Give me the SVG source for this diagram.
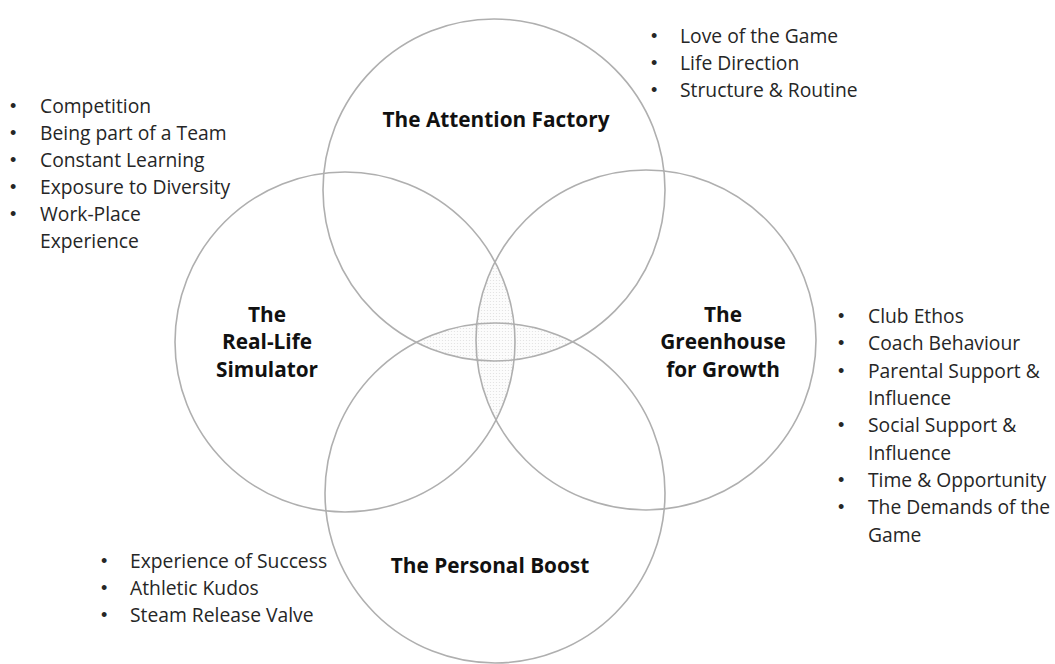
<svg xmlns="http://www.w3.org/2000/svg" width="1055" height="664" viewBox="0 0 1055 664">
<style>
.circ{fill:none;stroke:#afafaf;stroke-width:1.6}
.lbl{font-family:"Open Sans","Noto Sans","Liberation Sans",sans-serif;font-weight:bold;font-size:20.8px;fill:#111;text-anchor:middle}
.item{font-family:"Open Sans","Noto Sans","Liberation Sans",sans-serif;font-size:19.3px;fill:#262626}
.bul{font-family:"Liberation Sans",sans-serif;font-size:18px;fill:#262626}
</style>
<defs>
<pattern id="dots" width="3" height="3" patternUnits="userSpaceOnUse">
<rect width="3" height="3" fill="#fcfcfc"/>
<circle cx="1.5" cy="1.5" r="0.6" fill="#e0e0e0"/>
</pattern>
<clipPath id="clipTop"><circle cx="494" cy="190" r="171"/></clipPath>
<clipPath id="clipLeft"><circle cx="345" cy="342" r="170"/></clipPath>
</defs>
<rect width="1055" height="664" fill="#fff"/>
<g id="lenses">
<circle cx="495" cy="493" r="170" fill="url(#dots)" clip-path="url(#clipTop)"/>
<circle cx="646" cy="340" r="170" fill="url(#dots)" clip-path="url(#clipLeft)"/>
</g>
<g id="attention-factory">
<circle class="circ" cx="494" cy="190" r="171"/>
<text class="lbl" x="496" y="127">The Attention Factory</text>
</g>
<g id="real-life-simulator">
<circle class="circ" cx="345" cy="342" r="170"/>
<text class="lbl" x="267" y="322">The</text>
<text class="lbl" x="267" y="349">Real-Life</text>
<text class="lbl" x="267" y="377">Simulator</text>
</g>
<g id="greenhouse">
<circle class="circ" cx="646" cy="340" r="170"/>
<text class="lbl" x="723" y="322">The</text>
<text class="lbl" x="723" y="349">Greenhouse</text>
<text class="lbl" x="723" y="377">for Growth</text>
</g>
<g id="personal-boost">
<circle class="circ" cx="495" cy="493" r="170"/>
<text class="lbl" x="490" y="573">The Personal Boost</text>
</g>
<g id="list-left">
<text class="bul" x="10" y="112">•</text><text class="item" x="40" y="113">Competition</text>
<text class="bul" x="10" y="139">•</text><text class="item" x="40" y="140">Being part of a Team</text>
<text class="bul" x="10" y="166">•</text><text class="item" x="40" y="167">Constant Learning</text>
<text class="bul" x="10" y="193">•</text><text class="item" x="40" y="194">Exposure to Diversity</text>
<text class="bul" x="10" y="220">•</text><text class="item" x="40" y="221">Work-Place</text>
<text class="item" x="40" y="248">Experience</text>
</g>
<g id="list-top-right">
<text class="bul" x="651" y="42">•</text><text class="item" x="680" y="43">Love of the Game</text>
<text class="bul" x="651" y="69">•</text><text class="item" x="680" y="70">Life Direction</text>
<text class="bul" x="651" y="96">•</text><text class="item" x="680" y="97">Structure &amp; Routine</text>
</g>
<g id="list-right">
<text class="bul" x="838" y="322">•</text><text class="item" x="868" y="323">Club Ethos</text>
<text class="bul" x="838" y="349">•</text><text class="item" x="868" y="350">Coach Behaviour</text>
<text class="bul" x="838" y="377">•</text><text class="item" x="868" y="378">Parental Support &amp;</text>
<text class="item" x="868" y="405">Influence</text>
<text class="bul" x="838" y="431">•</text><text class="item" x="868" y="432">Social Support &amp;</text>
<text class="item" x="868" y="460">Influence</text>
<text class="bul" x="838" y="486">•</text><text class="item" x="868" y="487">Time &amp; Opportunity</text>
<text class="bul" x="838" y="513">•</text><text class="item" x="868" y="514">The Demands of the</text>
<text class="item" x="868" y="542">Game</text>
</g>
<g id="list-bottom-left">
<text class="bul" x="101" y="567">•</text><text class="item" x="130" y="568">Experience of Success</text>
<text class="bul" x="101" y="594">•</text><text class="item" x="130" y="595">Athletic Kudos</text>
<text class="bul" x="101" y="621">•</text><text class="item" x="130" y="622">Steam Release Valve</text>
</g>
</svg>
